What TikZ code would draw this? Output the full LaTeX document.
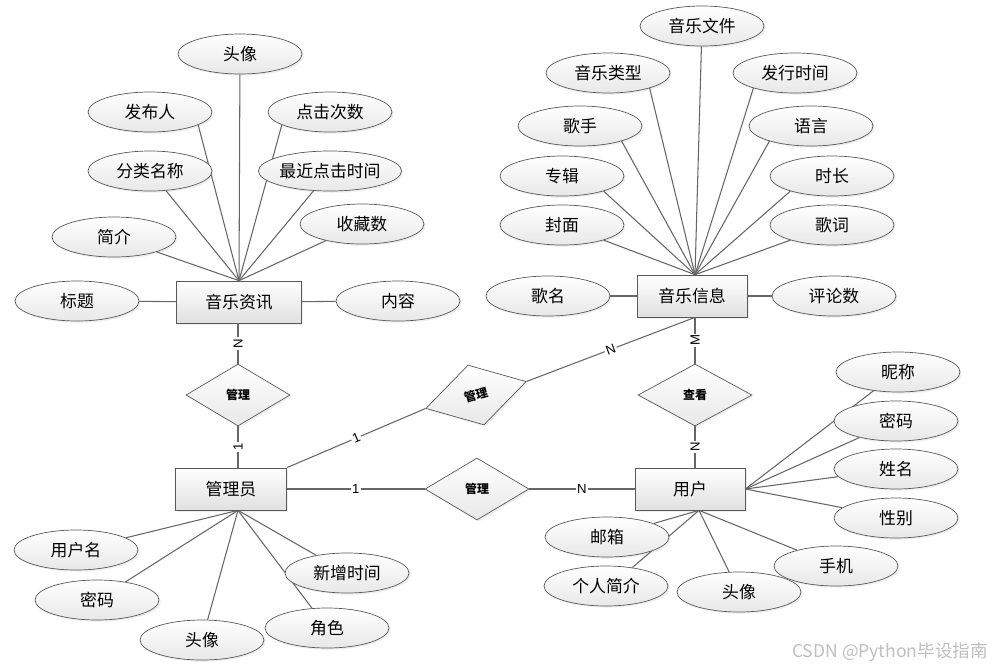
\documentclass[tikz,border=0pt]{standalone}
\usepackage{fontspec}
\setmainfont{Noto Sans CJK SC}
\newfontfamily\latinfont{Liberation Sans}
\usetikzlibrary{shapes.geometric,calc,shadows}
\pgfdeclarelayer{background}
\pgfsetlayers{background,main}

\tikzset{
  entity/.style={draw=black!65, top color=white, bottom color=black!12,
    minimum width=2.2cm, minimum height=0.84cm, inner sep=0pt,
    font=\fontsize{9.6}{11}\selectfont,
    drop shadow={opacity=0.12, shadow xshift=1pt, shadow yshift=-1pt}},
  attr/.style={ellipse, draw=black!65, top color=white, bottom color=black!9,
    minimum width=2.48cm, minimum height=0.8cm, inner sep=0pt,
    font=\fontsize{9.6}{11}\selectfont,
    drop shadow={opacity=0.12, shadow xshift=1pt, shadow yshift=-1pt}},
  rel/.style={diamond, draw=black!65, top color=white, bottom color=black!9,
    minimum width=2.08cm, minimum height=1.24cm, inner sep=0pt,
    font=\fontsize{6.8}{8}\selectfont\bfseries,
    drop shadow={opacity=0.12, shadow xshift=1pt, shadow yshift=-1pt}},
  conn/.style={draw=black!60, line width=0.6pt},
  card/.style={fill=white, inner sep=0.8pt, font=\latinfont\fontsize{7.5}{8}\selectfont},
}

\begin{document}
\begin{tikzpicture}[x=0.02cm, y=-0.02cm]
        \useasboundingbox (0,0) rectangle (994,670);

        % entities
        \node[entity, minimum width=2.5cm] (zx) at (239,302) {音乐资讯};
        \node[entity] (xx) at (692,296) {音乐信息};
        \node[entity, minimum width=2.22cm] (gly) at (231,489) {管理员};
        \node[entity] (yh) at (690,489) {用户};

        % relations
        \node[rel] (mg1) at (238,395) {管理};
        \node[rel, rotate=15] (mg2) at (476,395) {管理};
        \node[rel] (mg3) at (477,489) {管理};
        \node[rel, minimum width=2.28cm] (ck) at (695,395) {查看};

        % hubs
        \coordinate (zxhub) at (zx.north);
        \coordinate (xxhub) at ($(xx.north)+(3,0)$);
        \coordinate (glyhub) at ($(gly.south)+(7,0)$);
        \coordinate (yhhub) at ($(yh.south)+(9,0)$);

        % attributes of 音乐资讯
        \node[attr] (tx1) at (240,54) {头像};
        \node[attr] (fbr) at (150,112) {发布人};
        \node[attr] (djcs) at (330,112) {点击次数};
        \node[attr] (flmc) at (150,171) {分类名称};
        \node[attr] (zjdj) at (330,171) {最近点击时间};
        \node[attr] (jj) at (114,237) {简介};
        \node[attr] (scs) at (362,224) {收藏数};
        \node[attr] (bt) at (77,301) {标题};
        \node[attr] (nr) at (398,301) {内容};

        % attributes of 音乐信息
        \node[attr] (yywj) at (702,26) {音乐文件};
        \node[attr] (yylx) at (608,73) {音乐类型};
        \node[attr] (fxsj) at (795,73) {发行时间};
        \node[attr] (gs) at (580,126) {歌手};
        \node[attr] (yy) at (811,126) {语言};
        \node[attr] (zj) at (562,176) {专辑};
        \node[attr] (sc) at (832,176) {时长};
        \node[attr] (fm) at (562,225) {封面};
        \node[attr] (gc) at (832,225) {歌词};
        \node[attr] (gm) at (548,296) {歌名};
        \node[attr] (pls) at (834,296) {评论数};

        % attributes of 管理员
        \node[attr] (yhm) at (76,550) {用户名};
        \node[attr] (mm1) at (97,600) {密码};
        \node[attr] (tx2) at (202,640) {头像};
        \node[attr] (js) at (327,628) {角色};
        \node[attr] (xzsj) at (347,573) {新增时间};

        % attributes of 用户
        \node[attr] (nc) at (898,372) {昵称};
        \node[attr] (mm2) at (896,421) {密码};
        \node[attr] (xm) at (896,469) {姓名};
        \node[attr] (xb) at (896,518) {性别};
        \node[attr] (sj) at (836,566) {手机};
        \node[attr] (tx3) at (739,592) {头像};
        \node[attr] (grjj) at (606,586) {个人简介};
        \node[attr] (yx) at (607,537) {邮箱};

        \begin{pgfonlayer}{background}
        \fill[white] (0,0) rectangle (994,670);
        % attribute lines
        \path[conn] (tx1) edge (zxhub) (fbr.-15) edge (zxhub) (djcs.195) edge (zxhub);
        \path[conn] (flmc) edge (zxhub) (zjdj) edge (zxhub);
        \path[conn] (jj) edge (zxhub) (scs) edge (zxhub);
        \path[conn] (bt) edge (zx) (nr) edge (zx);
        %
        \path[conn] (yywj) edge (xxhub) (yylx.-20) edge (xxhub) (fxsj.200) edge (xxhub);
        \path[conn] (gs.-20) edge (xxhub) (yy.200) edge (xxhub);
        \path[conn] (zj.-20) edge (xxhub) (sc.200) edge (xxhub);
        \path[conn] (fm.-20) edge (xxhub) (gc.200) edge (xxhub);
        \path[conn] (gm) edge (xx) (pls) edge (xx);
        %
        \path[conn] (yhm) edge (glyhub) (mm1) edge (glyhub) (tx2) edge (glyhub);
        \path[conn] (js) edge (glyhub) (xzsj) edge (glyhub);
        %
        \path[conn] (nc) edge (yh.east) (mm2) edge (yh.east);
        \path[conn] (xm) edge (yh.east) (xb) edge (yh.east);
        \path[conn] (sj) edge (yhhub) (tx3) edge (yhhub);
        \path[conn] (grjj.35) edge (yhhub) (yx) edge (yhhub);
        \end{pgfonlayer}

        % relation lines
        \draw[conn] (mg1.north |- zx.south) -- node[card, rotate=90] {N} (mg1.north);
        \draw[conn] (mg1.south) -- node[card, rotate=90] {1} (mg1.south |- gly.north);
        \draw[conn] (gly.north east) -- node[card, sloped] {1} (mg2.west);
        \draw[conn] (mg2.east) -- node[card, sloped] {N} ($(xx.south)+(3,0)$);
        \draw[conn] (gly.east) -- node[card] {1} (mg3.west);
        \draw[conn] (mg3.east) -- node[card] {N} (yh.west);
        \draw[conn] (ck.north |- xx.south) -- node[card, rotate=90] {M} (ck.north);
        \draw[conn] (ck.south) -- node[card, rotate=90] {N} (ck.south |- yh.north);

        \node[text=black!25, font=\fontsize{10}{12}\selectfont] (wm) at (890,652) {CSDN @Python毕设指南};
    \end{tikzpicture}
\end{document}
